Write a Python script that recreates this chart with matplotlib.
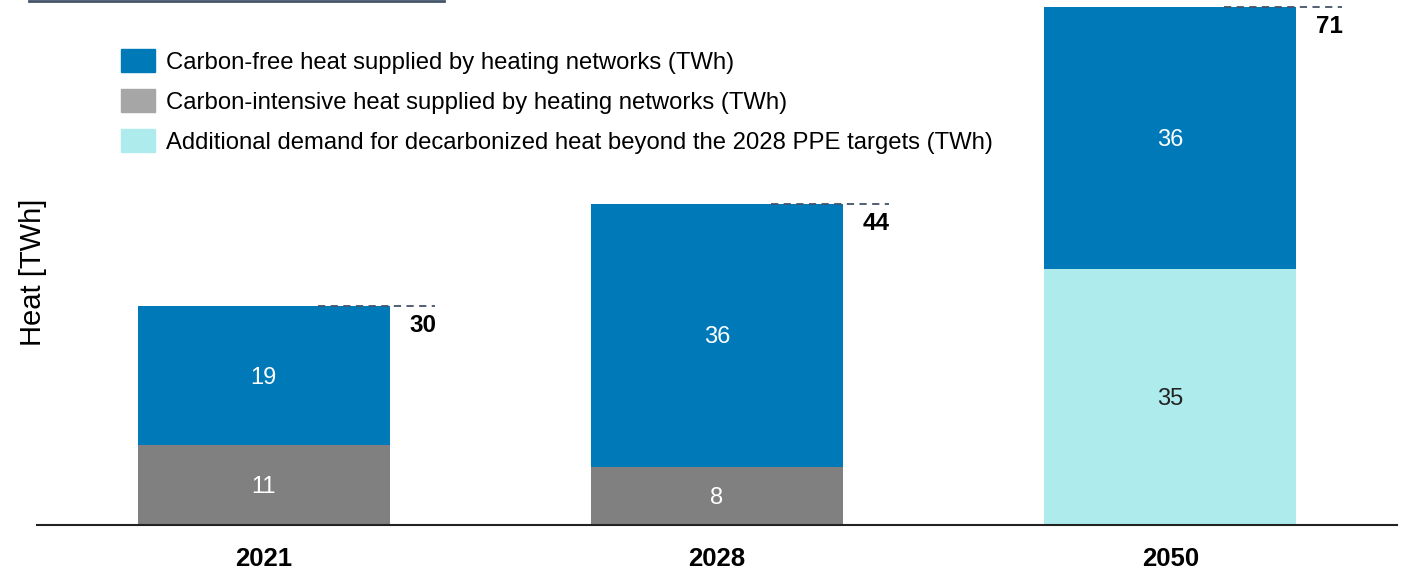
import matplotlib.pyplot as plt
from matplotlib.patches import Patch
from matplotlib.lines import Line2D
import numpy as np

plt.rcParams['font.family'] = ['Liberation Sans', 'DejaVu Sans']

# data
years = ['2021', '2028', '2050']
carbon_intensive = [11, 8, 0]
additional = [0, 0, 35]
carbon_free = [19, 36, 36]
totals = [30, 44, 71]

labels = ['Carbon-free heat supplied by heating networks (TWh)',
          'Carbon-intensive heat supplied by heating networks (TWh)',
          'Additional demand for decarbonized heat beyond the 2028 PPE targets (TWh)']

blue = '#0079B8'
gray = '#808080'
gray_legend = '#A6A6A6'
cyan = '#ADEBED'
navy = '#44546A'

fig = plt.figure(figsize=(14.07, 5.69), dpi=100)
ax = fig.add_axes([37 / 1407, 1 - 525 / 569, 1360 / 1407, 525 / 569])

x = np.arange(len(years))
w = 0.556
bottom = np.zeros(len(years))

for vals, col in [(carbon_intensive, gray), (additional, cyan)]:
    ax.bar(x, vals, w, bottom=bottom, color=col)
    for xi, v, b in zip(x, vals, bottom):
        if v > 0:
            tc = 'white' if col == gray else '#222222'
            ax.text(xi, b + v / 2 - 0.25, str(v), ha='center', va='center', color=tc, fontsize=17)
    bottom += np.array(vals)

ax.bar(x, carbon_free, w, bottom=bottom, color=blue)
for xi, v, b in zip(x, carbon_free, bottom):
    ax.text(xi, b + v / 2 - 0.3, str(v), ha='center', va='center', color='white', fontsize=17)

# totals with dashed leader lines
for xi, t in zip(x, totals):
    ax.plot([xi + 0.119, xi + 0.379], [t, t], ls=(0, (4, 3)), color=navy, lw=1.3, clip_on=False)
    ax.text(xi + 0.352, t - 1.1, str(t), ha='center', va='top', fontsize=17.5, fontweight='bold')

ax.set_xlim(-0.5, 2.5)
ax.set_ylim(0, 71.9)
ax.set_xticks(x)
ax.set_xticklabels(years, fontsize=18.5, fontweight='bold')
ax.tick_params(axis='x', length=0, pad=16)
ax.set_yticks([])
for s in ['top', 'right', 'left']:
    ax.spines[s].set_visible(False)
ax.spines['bottom'].set_linewidth(1.5)
ax.spines['bottom'].set_color('#222222')

fig.text(33 / 1407, 1 - 272 / 569, 'Heat [TWh]', rotation=90, ha='center', va='center', fontsize=21)

handles = [Patch(color=blue), Patch(color=gray_legend), Patch(color=cyan)]
ax.legend(handles, labels, loc='upper left', bbox_to_anchor=(121 / 1407, 1 - 49 / 569),
          bbox_transform=fig.transFigure, frameon=False, fontsize=17.2,
          handlelength=1.44, handleheight=1.1, handletextpad=0.45, labelspacing=0.65,
          borderaxespad=0, borderpad=0)

fig.add_artist(Line2D([29 / 1407, 444 / 1407], [1 - 1 / 569, 1 - 1 / 569], color=navy, lw=2))

fig.savefig('out.png', dpi=100)
